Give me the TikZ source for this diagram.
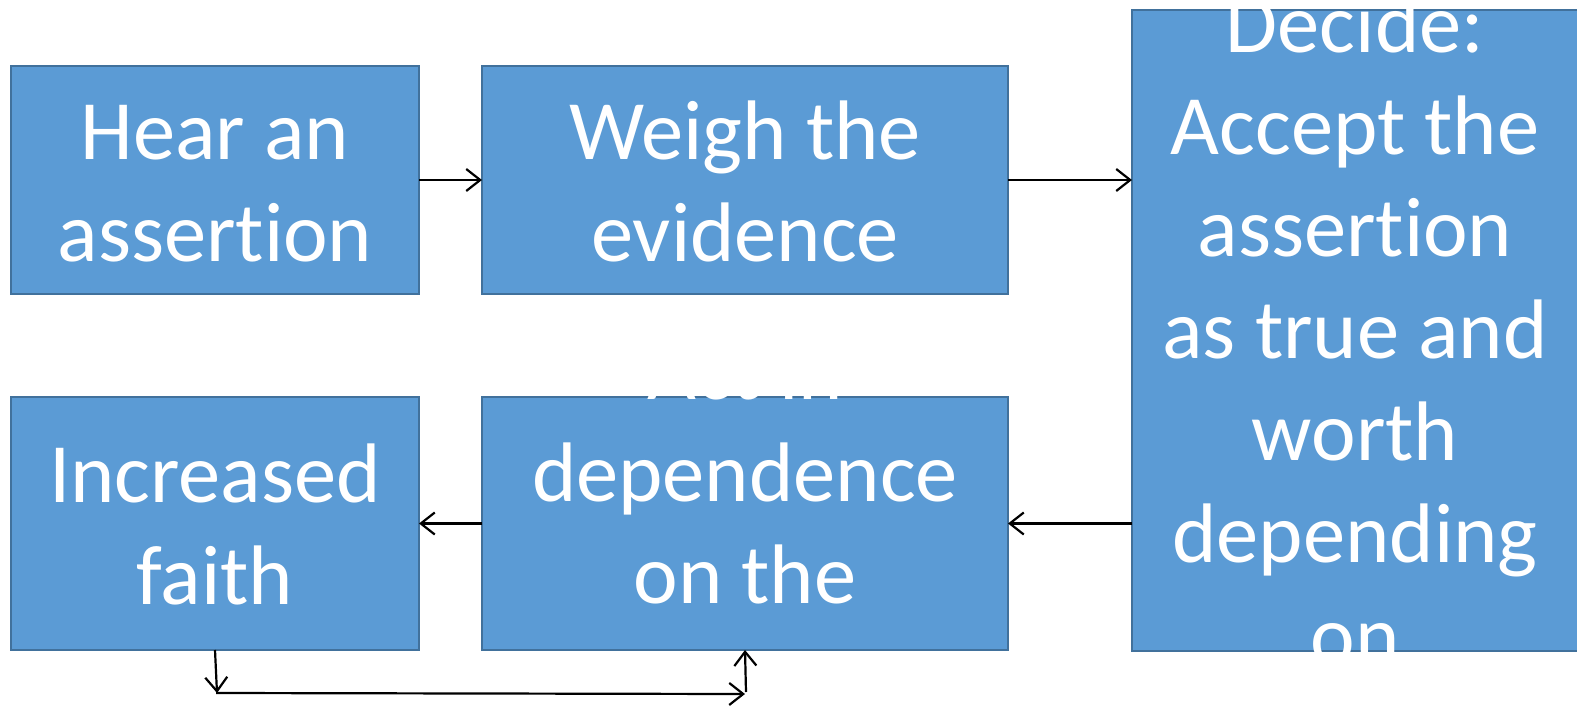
\documentclass[tikz,border=0pt]{standalone}
\usepackage{fontspec}
\setmainfont{Carlito}[Ligatures=NoCommon]
\usetikzlibrary{arrows.meta}
\definecolor{boxfill}{HTML}{5B9BD5}
\definecolor{boxline}{HTML}{41719C}
\newcommand{\fl}{\rule{0pt}{61pt}}
\tikzset{
  txt/.style={text=white, align=center, inner sep=0pt, outer sep=0pt,
    font=\fontsize{84.5}{102}\selectfont},
  box/.style={txt, draw=boxline, fill=boxfill, line width=2pt},
  arr/.style={draw=black, line width=2.2pt, -{Straight Barb[length=14pt,width=22pt,line width=2.2pt]}}
}
\begin{document}
\begin{tikzpicture}[x=1pt,y=-1pt]
\useasboundingbox (0,0) rectangle (1577,707);
\clip (0,0) rectangle (1577,707);
\node[box, minimum width=408pt, minimum height=228pt] (A) at (215,180) {\fl Hear an\\assertion};
\node[box, minimum width=526pt, minimum height=228pt] (B) at (745,180) {\fl Weigh the\\evidence};
\node[box, minimum width=446pt, minimum height=641pt] (C) at (1355,330.5) {};
\node[txt, yshift=2pt] (Ct) at (C.center) {\fl Decide:\\Accept the\\assertion\\as true and\\worth\\depending\\on};
\node[box, minimum width=408pt, minimum height=253pt] (D) at (215,523.5) {\fl Increased\\faith};
\node[box, minimum width=526pt, minimum height=253pt] (E) at (745,523.5) {};
\node[txt] (Et) at (745,471) {\fl Act in\\dependence\\on the};
\coordinate (p1) at (217,693);
\coordinate (p2) at (745,694);
\coordinate (p3) at (746,692);
\draw[arr] (A.east) -- (B.west);
\draw[arr] (B.east) -- (B.east -| C.west);
\draw[arr] (C.west |- E.east) -- (E.east);
\draw[arr] (E.west) -- (D.east);
\draw[arr] (D.south) -- (p1);
\draw[arr, shorten <=-1pt] (p1) -- (p2);
\draw[arr] (p3) -- (E.south);
\end{tikzpicture}
\end{document}
